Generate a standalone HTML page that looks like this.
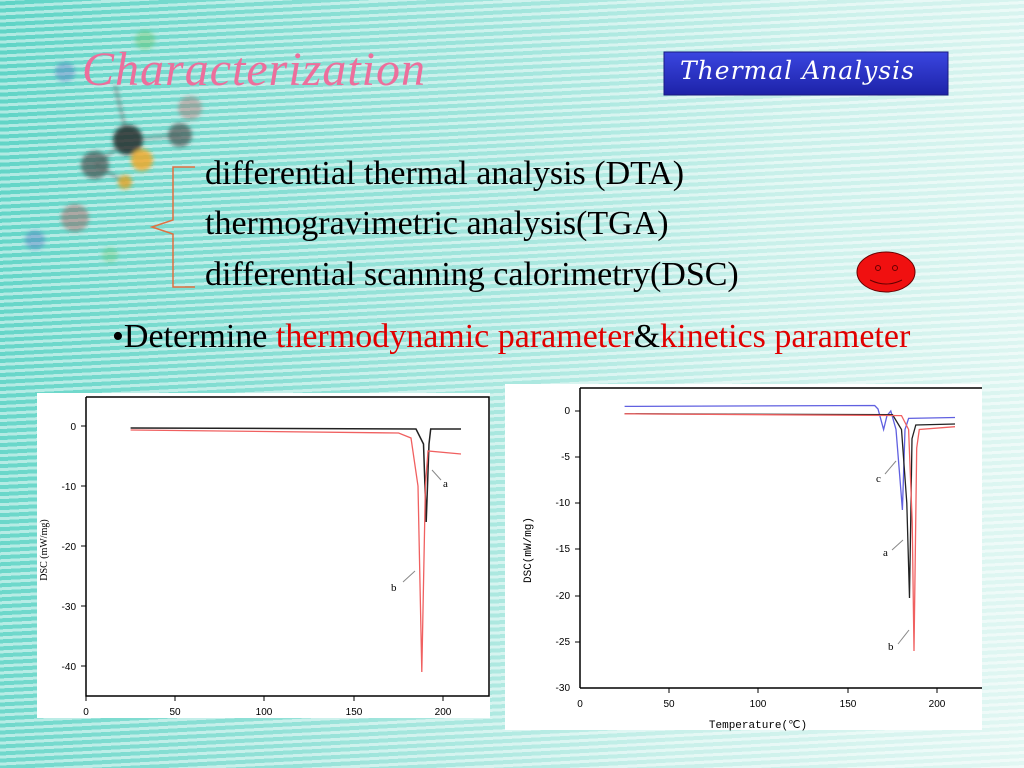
<!DOCTYPE html>
<html><head><meta charset="utf-8"><style>
body{margin:0;width:1024px;height:768px;overflow:hidden;position:relative;font-family:"Liberation Serif",serif;
background:repeating-linear-gradient(-3deg,rgba(255,255,255,0.5) 0 3px,rgba(255,255,255,0) 3px 7px),linear-gradient(100deg,#5fd4c6 0%,#92e1d7 35%,#c9f0ea 70%,#e2f7f3 100%);}
.t{position:absolute;white-space:nowrap;line-height:1;}
</style></head><body>
<svg width="1024" height="768" style="position:absolute;left:0;top:0">
<defs><filter id="bl"><feGaussianBlur stdDeviation="2"/></filter>
<linearGradient id="tb" x1="0" y1="0" x2="0" y2="1"><stop offset="0" stop-color="#3a46e0"/><stop offset="1" stop-color="#1d22a8"/></linearGradient></defs>
<g opacity="0.8" filter="url(#bl)">
<line x1="128" y1="140" x2="115" y2="85" stroke="#666" stroke-width="2"/>
<line x1="128" y1="140" x2="180" y2="135" stroke="#666" stroke-width="2"/>
<line x1="128" y1="140" x2="95" y2="165" stroke="#666" stroke-width="2"/>
<line x1="95" y1="165" x2="125" y2="182" stroke="#666" stroke-width="2"/>
<circle cx="128" cy="140" r="15" fill="#222"/>
<circle cx="180" cy="135" r="12" fill="#444" opacity="0.8"/>
<circle cx="95" cy="165" r="14" fill="#444" opacity="0.8"/>
<circle cx="142" cy="160" r="11" fill="#f5a623"/>
<circle cx="125" cy="182" r="7" fill="#e0a020"/>
<circle cx="190" cy="108" r="12" fill="#b06060" opacity="0.5"/>
<circle cx="75" cy="218" r="14" fill="#a04040" opacity="0.5"/>
<circle cx="35" cy="240" r="10" fill="#5070c0" opacity="0.5"/>
<circle cx="65" cy="72" r="10" fill="#5070c0" opacity="0.5"/>
<circle cx="145" cy="40" r="10" fill="#60c060" opacity="0.5"/>
<circle cx="110" cy="255" r="8" fill="#60c060" opacity="0.4"/>
</g>
<rect x="664" y="52" width="284" height="43" fill="url(#tb)" stroke="#1a1a80"/>
<path d="M195 167 H173 V220 L152 227 L173 234 V287 H195" fill="none" stroke="#e07040" stroke-width="1.5"/>
<ellipse cx="886" cy="272" rx="29" ry="20" fill="#f01010" stroke="#600" stroke-width="1"/>
<circle cx="878" cy="268" r="2.5" fill="none" stroke="#600"/><circle cx="895" cy="268" r="2.5" fill="none" stroke="#600"/>
<path d="M870 280 Q886 288 902 280" fill="none" stroke="#600"/>

<!-- left chart -->
<rect x="37" y="393" width="453" height="325" fill="#fff"/>
<g font-family="Liberation Sans,sans-serif" font-size="10" fill="#000">
<polyline points="86,397 489,397 489,696 86,696 86,397" fill="none" stroke="#000" stroke-width="1.5"/>
<g stroke="#000">
<line x1="86" y1="426" x2="81" y2="426"/><line x1="86" y1="486" x2="81" y2="486"/><line x1="86" y1="546" x2="81" y2="546"/><line x1="86" y1="606" x2="81" y2="606"/><line x1="86" y1="666" x2="81" y2="666"/>
<line x1="86" y1="696" x2="86" y2="701"/><line x1="175" y1="696" x2="175" y2="701"/><line x1="264" y1="696" x2="264" y2="701"/><line x1="354" y1="696" x2="354" y2="701"/><line x1="443" y1="696" x2="443" y2="701"/>
</g>
<text x="76" y="430" text-anchor="end">0</text><text x="76" y="490" text-anchor="end">-10</text><text x="76" y="550" text-anchor="end">-20</text><text x="76" y="610" text-anchor="end">-30</text><text x="76" y="670" text-anchor="end">-40</text>
<text x="86" y="715" text-anchor="middle">0</text><text x="175" y="715" text-anchor="middle">50</text><text x="264" y="715" text-anchor="middle">100</text><text x="354" y="715" text-anchor="middle">150</text><text x="443" y="715" text-anchor="middle">200</text>
<text transform="translate(47,550) rotate(-90)" text-anchor="middle" font-family="Liberation Serif,serif">DSC (mW/mg)</text>
<polyline fill="none" stroke="#222" stroke-width="1.5" points="130.6,428 416,429 423.5,444 426.2,522 429,444 430.7,429 461,429"/>
<polyline fill="none" stroke="#f06060" stroke-width="1.3" points="130.6,430 398.6,433 411,438 418,486 421.8,672 425.4,486 428,451 461,454"/>
<text x="443" y="487" font-family="Liberation Serif,serif" font-size="11">a</text>
<text x="391" y="591" font-family="Liberation Serif,serif" font-size="11">b</text>
<line x1="432" y1="470" x2="441" y2="480" stroke="#888"/><line x1="403" y1="582" x2="415" y2="571" stroke="#888"/>
</g>

<!-- right chart -->
<rect x="505" y="384" width="477" height="346" fill="#fff"/>
<g font-family="Liberation Sans,sans-serif" font-size="10" fill="#000">
<line x1="580" y1="388" x2="580" y2="688" stroke="#000" stroke-width="1.5"/><line x1="580" y1="688" x2="982" y2="688" stroke="#000" stroke-width="1.5"/><line x1="580" y1="388" x2="982" y2="388" stroke="#000" stroke-width="1.5"/>
<g stroke="#000">
<line x1="580" y1="411" x2="575" y2="411"/><line x1="580" y1="457" x2="575" y2="457"/><line x1="580" y1="503" x2="575" y2="503"/><line x1="580" y1="549" x2="575" y2="549"/><line x1="580" y1="596" x2="575" y2="596"/><line x1="580" y1="642" x2="575" y2="642"/>
<line x1="669" y1="688" x2="669" y2="693"/><line x1="758" y1="688" x2="758" y2="693"/><line x1="848" y1="688" x2="848" y2="693"/><line x1="937" y1="688" x2="937" y2="693"/>
</g>
<text x="570" y="414" text-anchor="end">0</text><text x="570" y="460" text-anchor="end">-5</text><text x="570" y="506" text-anchor="end">-10</text><text x="570" y="552" text-anchor="end">-15</text><text x="570" y="599" text-anchor="end">-20</text><text x="570" y="645" text-anchor="end">-25</text><text x="570" y="691" text-anchor="end">-30</text>
<text x="580" y="707" text-anchor="middle">0</text><text x="669" y="707" text-anchor="middle">50</text><text x="758" y="707" text-anchor="middle">100</text><text x="848" y="707" text-anchor="middle">150</text><text x="937" y="707" text-anchor="middle">200</text>
<text x="758" y="728" text-anchor="middle" font-family="Liberation Mono,monospace" font-size="11">Temperature(℃)</text>
<text transform="translate(531,550) rotate(-90)" text-anchor="middle" font-family="Liberation Mono,monospace" font-size="11">DSC(mW/mg)</text>
<polyline fill="none" stroke="#6060e0" stroke-width="1.3" points="624.6,406.4 874.7,405.5 878,409 883.6,429.5 887,415.6 890.8,411 896,429.5 899.7,475.6 902.4,510 905,429.5 908.6,418.4 955,417.5"/>
<polyline fill="none" stroke="#222" stroke-width="1.3" points="624.6,413.8 892.5,414.7 901.5,429.5 906.8,503 909.5,598 912,438.7 915.8,425 955,424"/>
<polyline fill="none" stroke="#f06060" stroke-width="1.3" points="624.6,413.8 901.5,415.6 908.6,429.5 912.2,521.8 914,651 916.7,448 919.3,429.5 955,426.7"/>
<text x="876" y="482" font-family="Liberation Serif,serif" font-size="11">c</text>
<text x="883" y="556" font-family="Liberation Serif,serif" font-size="11">a</text>
<text x="888" y="650" font-family="Liberation Serif,serif" font-size="11">b</text>
<line x1="885" y1="474" x2="896" y2="461" stroke="#888"/><line x1="892" y1="550" x2="903" y2="540" stroke="#888"/><line x1="898" y1="644" x2="909" y2="630" stroke="#888"/>
</g>
</svg>
<div class="t" style="left:82px;top:46px;font-size:48px;font-style:italic;color:#ec6f9c;letter-spacing:1px">Characterization</div>
<div class="t" style="left:680px;top:58px;font-style:italic;color:#fff;font-family:'DejaVu Serif',serif;font-size:25px;letter-spacing:1px">Thermal Analysis</div>
<div class="t" style="left:205px;top:157px;font-size:34px">differential thermal analysis (DTA)</div>
<div class="t" style="left:205px;top:207px;font-size:34px">thermogravimetric analysis(TGA)</div>
<div class="t" style="left:205px;top:258px;font-size:34px">differential scanning calorimetry(DSC)</div>
<div class="t" style="left:112px;top:320px;font-size:34px">•Determine <span style="color:#e00000">thermodynamic parameter</span>&amp;<span style="color:#e00000">kinetics parameter</span></div>
</body></html>
